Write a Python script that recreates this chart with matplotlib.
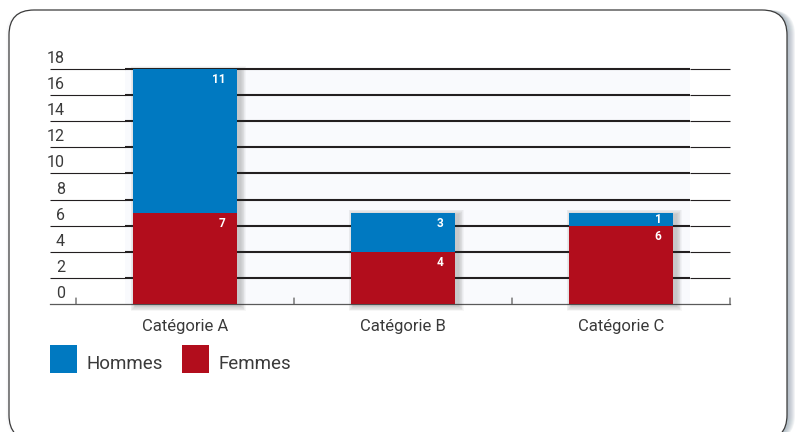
import matplotlib
matplotlib.use("Agg")
import matplotlib.pyplot as plt
from matplotlib.patches import Rectangle, FancyBboxPatch
import matplotlib.transforms as mtransforms

# ---- data ----
categories = ["Catégorie A", "Catégorie B", "Catégorie C"]
femmes = [7, 4, 6]
hommes = [11, 3, 1]
series_names = ["Hommes", "Femmes"]
y_ticks = [0, 2, 4, 6, 8, 10, 12, 14, 16, 18]

# ---- style ----
BLUE = "#0079c1"
RED = "#b20d1c"
TINT = "#f9fafd"
GRID = "#231f20"
TEXT = "#3a3a3a"
FONT = ["Roboto", "DejaVu Sans"]
plt.rcParams["font.family"] = FONT

W, H = 795, 432
fig = plt.figure(figsize=(W / 100, H / 100), dpi=100)
fig.patch.set_facecolor("white")
PIX = mtransforms.IdentityTransform()


def px_box(l, t, r, b):
    return [l / W, 1 - b / H, (r - l) / W, (b - t) / H]


# ---- rounded frame with a soft shadow on the right ----
for k in range(1, 9):
    fig.add_artist(FancyBboxPatch((9 + k, -8), 778, 430,
                                  boxstyle="round,pad=0,rounding_size=25",
                                  transform=PIX, facecolor="#6f8494",
                                  edgecolor="none", alpha=0.09, zorder=-3))
for k in range(1, 4):
    fig.add_artist(FancyBboxPatch((9 - k, -8), 778, 430,
                                  boxstyle="round,pad=0,rounding_size=25",
                                  transform=PIX, facecolor="#a0aab2",
                                  edgecolor="none", alpha=0.04, zorder=-3))
fig.add_artist(FancyBboxPatch((9, -8), 778, 430,
                              boxstyle="round,pad=0,rounding_size=25",
                              transform=PIX, facecolor="white",
                              edgecolor="#3c3c3c", linewidth=0.9, zorder=-2))

# ---- plot area ----
ax = fig.add_axes(px_box(76, 69, 730, 304))
ax.set_zorder(5)
ax.set_xlim(0, len(categories))
ax.set_ylim(y_ticks[0], y_ticks[-1])
ax.axis("off")
ax.patch.set_alpha(0)

ytr = ax.get_yaxis_transform()
L_OUT, L_IN, R_IN, R_OUT = -0.0398, 0.0749, 0.9388, 1.0

ax.add_patch(Rectangle((L_IN, 0), R_IN - L_IN, 1, transform=ax.transAxes,
                       facecolor=TINT, edgecolor="none", zorder=0, clip_on=False))

for v in y_ticks[1:]:
    ax.plot([L_OUT, L_IN], [v, v], transform=ytr, color=GRID, lw=0.8,
            solid_capstyle="butt", clip_on=False, zorder=1)
    ax.plot([L_IN, R_IN], [v, v], transform=ytr, color=GRID, lw=1.5,
            solid_capstyle="butt", clip_on=False, zorder=1)
    ax.plot([R_IN, R_OUT], [v, v], transform=ytr, color=GRID, lw=0.8,
            solid_capstyle="butt", clip_on=False, zorder=1)

# baseline and category separators
ax.plot([L_OUT, R_OUT], [0, 0], transform=ytr, color="#5a5a5a", lw=0.9,
        clip_on=False, zorder=1)
for i in range(len(categories) + 1):
    ax.annotate("", xy=(i, 0), xytext=(i, 6), textcoords=("data", "offset pixels"),
                xycoords="data",
                arrowprops=dict(arrowstyle="-", color="#5a5a5a", lw=0.9,
                                shrinkA=0, shrinkB=0))

# y labels sit above their gridline
up = mtransforms.ScaledTranslation(0, 6 / 100, fig.dpi_scale_trans)
for v in y_ticks:
    ax.text(-0.0168, v, str(v), transform=ytr + up, ha="right", va="baseline",
            fontsize=11.5, color=TEXT, clip_on=False)

# ---- bars ----
bw = 0.48
px_x = len(categories) / 654.0
px_y = (y_ticks[-1] - y_ticks[0]) / 235.0


def shadow(x0, y0, w, h):
    for k in range(1, 8):
        ax.add_patch(Rectangle((x0 + (3 - 0.7 * k) * px_x, y0 - (2 + 0.7 * k) * px_y),
                               w + (1.5 * k) * px_x, h + (1.4 * k) * px_y,
                               facecolor="#3a3a3a", edgecolor="none",
                               alpha=0.04, zorder=2, clip_on=False))


def value_label(x_right, top, value):
    seg_px = value / px_y
    dy = min(10.5, seg_px / 2)
    ax.annotate(str(value), xy=(x_right, top), xytext=(-12, -dy),
                textcoords="offset pixels", ha="right", va="center",
                color="white", fontsize=8.5, fontweight="bold", zorder=6,
                annotation_clip=False)


for i, (f, h) in enumerate(zip(femmes, hommes)):
    left = i + 0.5 - bw / 2
    shadow(left, 0, bw, f + h)
    ax.add_patch(Rectangle((left, 0), bw, f, facecolor=RED, edgecolor="none",
                           zorder=3, clip_on=False))
    ax.add_patch(Rectangle((left, f), bw, h, facecolor=BLUE, edgecolor="none",
                           zorder=3, clip_on=False))
    value_label(left + bw, f, f)
    value_label(left + bw, f + h, h)
    ax.annotate(categories[i], xy=(i + 0.5, 0), xytext=(0, -26.5),
                textcoords="offset pixels", ha="center", va="baseline",
                fontsize=12, color=TEXT, annotation_clip=False)

# ---- legend ----
legend_items = [(series_names[0], BLUE, 50), (series_names[1], RED, 182)]
for name, col, x0 in legend_items:
    fig.add_artist(Rectangle((x0, H - 373), 27, 28, transform=PIX,
                             facecolor=col, edgecolor="none", zorder=6))
    fig.text((x0 + 36) / W, (H - 369) / H, name, ha="left", va="baseline",
             fontsize=13.5, color=TEXT)

fig.savefig("out.png", dpi=100)
